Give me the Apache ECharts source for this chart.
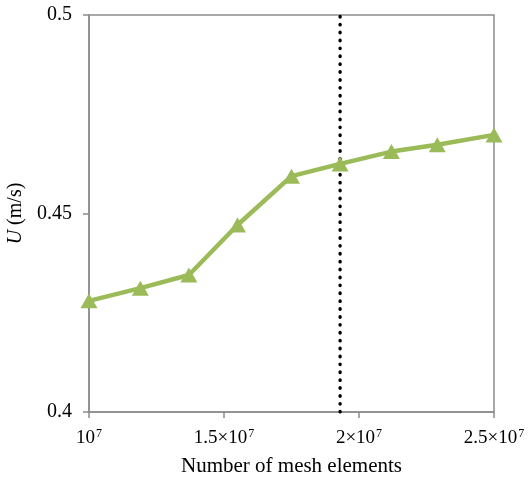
<!DOCTYPE html>
<html>
<head>
<meta charset="utf-8">
<script src="https://cdn.jsdelivr.net/npm/echarts@6/dist/echarts.min.js"></script>
<style>
  html, body { margin: 0; padding: 0; background: #fff; }
  #chart { width: 528px; height: 482px; }
</style>
</head>
<body>
<div id="chart"></div>
<script>
// Mesh size vs. velocity convergence
const meshElements = [1.0e7, 1.19e7, 1.37e7, 1.55e7, 1.75e7, 1.93e7, 2.12e7, 2.29e7, 2.5e7];
const velocity = [0.428, 0.4312, 0.4345, 0.4471, 0.4594, 0.4625, 0.4656, 0.4673, 0.4698];
const selectedMesh = 1.93e7;
const yTicks = [0.4, 0.45, 0.5];
const xTicks = [1.0e7, 1.5e7, 2.0e7, 2.5e7];

const serif = '"Liberation Serif", "Times New Roman", serif';
const axisGray = '#8c8c8c';

function xLabel(v) {
  const m = Math.round(v / 1e6) / 10;
  if (m === 1) return '{n|10}{s|7}';
  return '{n|' + m + '×10}{s|7}';
}

const chart = echarts.init(document.getElementById('chart'), null, { renderer: 'canvas' });
chart.setOption({
  animation: false,
  backgroundColor: '#fff',
  grid: {
    left: 89, right: 34, top: 15, bottom: 70,
    outerBoundsMode: 'none',
    containLabel: false,
    show: true, borderColor: axisGray, borderWidth: 1.5
  },
  xAxis: {
    type: 'value',
    min: xTicks[0], max: xTicks[xTicks.length - 1], interval: 0.5e7,
    name: 'Number of mesh elements',
    nameLocation: 'middle', nameGap: 44,
    nameTextStyle: { fontFamily: serif, fontSize: 21, color: '#000' },
    axisLine: { show: true, lineStyle: { color: axisGray, width: 1.5 } },
    axisTick: { show: true, length: 6, lineStyle: { color: axisGray, width: 1.5 } },
    splitLine: { show: false },
    axisLabel: {
      margin: 16,
      formatter: xLabel,
      rich: {
        n: { fontFamily: serif, fontSize: 19, color: '#000', lineHeight: 20 },
        s: { fontFamily: serif, fontSize: 12, color: '#000', lineHeight: 20, padding: [0, 0, 9, 1] }
      }
    }
  },
  yAxis: {
    type: 'value',
    min: yTicks[0], max: yTicks[yTicks.length - 1], interval: 0.05,
    name: '{i|U} (m/s)',
    nameLocation: 'middle', nameGap: 54, nameRotate: 90,
    nameTextStyle: {
      fontFamily: serif, fontSize: 20, color: '#000',
      rich: {
        i: { fontFamily: serif, fontSize: 20, fontStyle: 'italic', color: '#000' }
      }
    },
    axisLine: { show: true, lineStyle: { color: axisGray, width: 1.5 } },
    axisTick: { show: true, inside: false, length: 6, lineStyle: { color: axisGray, width: 1.5 } },
    splitLine: { show: false },
    axisLabel: {
      margin: 17,
      fontFamily: serif, fontSize: 20, color: '#000',
      formatter: v => String(Math.round(v * 100) / 100)
    }
  },
  series: [
    {
      type: 'line',
      data: [[selectedMesh, yTicks[0]], [selectedMesh, yTicks[yTicks.length - 1]]],
      symbol: 'none',
      silent: true,
      z: 1,
      lineStyle: { color: '#000', width: 3.4, type: [0.5, 7.4], cap: 'round' }
    },
    {
      type: 'line',
      data: meshElements.map((x, i) => [x, velocity[i]]),
      symbol: 'triangle',
      symbolSize: [17, 15],
      z: 3,
      lineStyle: { color: '#9bbb59', width: 4.5 },
      itemStyle: { color: '#9bbb59', borderWidth: 0 }
    }
  ]
});
</script>
</body>
</html>
